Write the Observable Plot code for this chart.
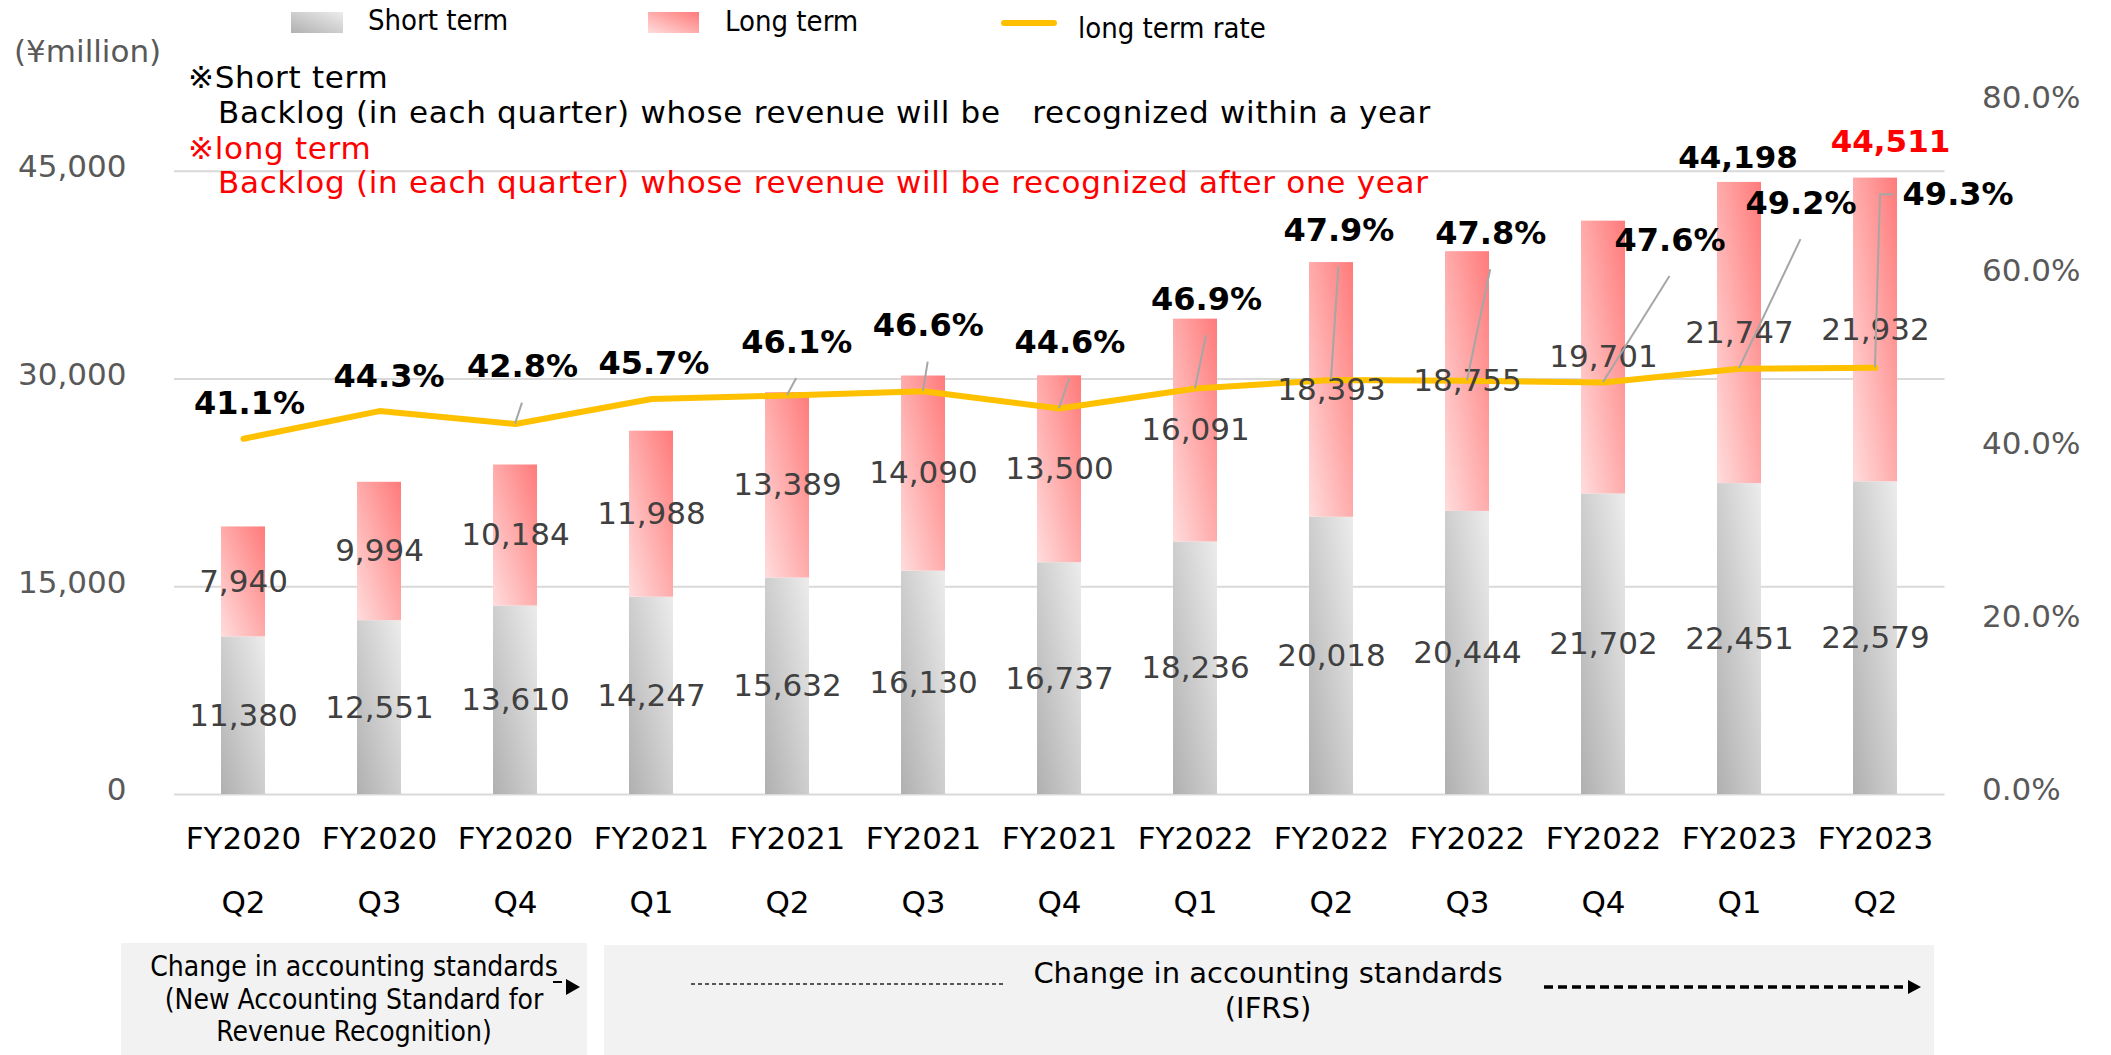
<!DOCTYPE html>
<html>
<head>
<meta charset="utf-8">
<script src="https://cdn.jsdelivr.net/npm/d3@7"></script>
<script src="https://cdn.jsdelivr.net/npm/@observablehq/plot@0.6"></script>
<style>
  html, body { margin: 0; padding: 0; background: #fff; }
  #wrap { position: relative; width: 2111px; height: 1055px; overflow: hidden; }
  #wrap > svg.plot { position: absolute; left: 0; top: 0; }
  .abs { position: absolute; white-space: pre; }
  .cond { font-family: "DejaVu Sans Condensed", "DejaVu Sans", "Noto Sans CJK JP", sans-serif; font-stretch: condensed; }
  .reg { font-family: "DejaVu Sans", "Noto Sans CJK JP", sans-serif; }
</style>
</head>
<body>
<div id="wrap"></div>
<script>
// ---------- data ----------
const fiscalYears = ["FY2020","FY2020","FY2020","FY2021","FY2021","FY2021","FY2021","FY2022","FY2022","FY2022","FY2022","FY2023","FY2023"];
const quarters    = ["Q2","Q3","Q4","Q1","Q2","Q3","Q4","Q1","Q2","Q3","Q4","Q1","Q2"];
const shortTerm   = [11380,12551,13610,14247,15632,16130,16737,18236,20018,20444,21702,22451,22579];
const longTerm    = [7940,9994,10184,11988,13389,14090,13500,16091,18393,18755,19701,21747,21932];
const longRate    = [0.411,0.443,0.428,0.457,0.461,0.466,0.446,0.469,0.479,0.478,0.476,0.492,0.493];
const leftTicks   = [0,15000,30000,45000];
const rightTicks  = [0,0.2,0.4,0.6,0.8];
const totalShown  = [11,12];

// ---------- layout (pixel offsets for labels) ----------
const rateDx = [6,9.5,7,2.4,9.2,4.7,10.4,11,7.4,23.2,66.5,61.5,82.6];
const rateDy = [-35,-34,-57,-35,-53,-65,-66,-89,-149,-147,-142,-165,-173];
const leaderKind = [0,0,1,0,1,1,1,1,1,1,1,1,2];
const totalDx = {11: -1.5, 12: 15};
const totalDy = {11: -24, 12: -36};
const totalColor = {11: "#000000", 12: "#FF0000"};

const categories = fiscalYears.map((f, i) => f + " " + quarters[i]);
const idx = d3.range(categories.length);
const yMax = 50000;
const rateMax = 0.8;
const rateToY = yMax / rateMax;
const fmt = d3.format(",");
const pct = r => (r * 100).toFixed(1) + "%";
const X = i => categories[i];

const rateLabelMarks = idx.map(i => Plot.text([i], {
  x: X, y: j => longRate[j] * rateToY, text: j => pct(longRate[j]),
  dx: rateDx[i], dy: rateDy[i], fontSize: 32, fontWeight: "bold", fill: "#000"
}));
const totalMarks = totalShown.map(i => Plot.text([i], {
  x: X, y: j => shortTerm[j] + longTerm[j], text: j => fmt(shortTerm[j] + longTerm[j]),
  dx: totalDx[i], dy: totalDy[i], fontSize: 31, fontWeight: "bold", fill: totalColor[i]
}));

const plot = Plot.plot({
  width: 2111,
  height: 1055,
  marginLeft: 174,
  marginRight: 166.5,
  marginTop: 101.6,
  marginBottom: 261,
  style: { fontFamily: "DejaVu Sans, sans-serif", background: "transparent", overflow: "visible" },
  x: { type: "band", domain: categories, paddingInner: 0.677, paddingOuter: 0.3385, axis: null },
  y: { domain: [0, yMax], axis: null },
  marks: [
    Plot.ruleY(leftTicks, { stroke: "#d9d9d9", strokeWidth: 2 }),
    Plot.axisY(leftTicks, { anchor: "left", tickSize: 0, tickPadding: 48, fontSize: 31, fill: "#595959", dy: -4, tickFormat: d => fmt(d), label: null }),
    Plot.axisY(rightTicks.map(r => r * rateToY), { anchor: "right", tickSize: 0, tickPadding: 37, fontSize: 31, fill: "#595959", dy: -4, tickFormat: d => pct(d / rateToY), label: null }),
    Plot.barY(idx, { x: X, y1: i => 0, y2: i => shortTerm[i], fill: "url(#gShort)" }),
    Plot.barY(idx, { x: X, y1: i => shortTerm[i], y2: i => shortTerm[i] + longTerm[i], fill: "url(#gLong)" }),
    Plot.line(idx, { x: X, y: i => longRate[i] * rateToY, stroke: "#FFC000", strokeWidth: 6, strokeLinejoin: "round", strokeLinecap: "round" }),
    Plot.text(idx, { x: X, y: i => shortTerm[i] / 2, text: i => fmt(shortTerm[i]), fontSize: 31, fill: "#404040" }),
    Plot.text(idx, { x: X, y: i => shortTerm[i] + longTerm[i] / 2, text: i => fmt(longTerm[i]), fontSize: 31, fill: "#404040" }),
    Plot.text(idx, { x: X, y: i => 0, text: i => fiscalYears[i], dy: 45, fontSize: 31, fill: "#000" }),
    Plot.text(idx, { x: X, y: i => 0, text: i => quarters[i], dy: 108.7, fontSize: 31, fill: "#000" }),
    ...rateLabelMarks,
    ...totalMarks
  ]
});
plot.classList.add("plot");

// gradients for bars
const svg = d3.select(plot);
const defs = svg.insert("defs", ":first-child");
function grad(id, c0, c1) {
  const g = defs.append("linearGradient").attr("id", id)
    .attr("x1", 0).attr("y1", 1).attr("x2", 1).attr("y2", 0);
  g.append("stop").attr("offset", "0%").attr("stop-color", c0);
  g.append("stop").attr("offset", "100%").attr("stop-color", c1);
}
grad("gShort", "#b0b0b0", "#ececec");
grad("gLong", "#ffdcdc", "#ff7a7a");

// leader lines from line points to labels (using the plot's scales)
const sx = plot.scale("x"), sy = plot.scale("y");
const bw = sx.bandwidth || 0;
const leaders = svg.append("g").attr("fill", "none").attr("stroke", "#a6a6a6").attr("stroke-width", 2);
idx.forEach(i => {
  if (!leaderKind[i]) return;
  const px = sx.apply(categories[i]) + bw / 2;
  const py = sy.apply(longRate[i] * rateToY);
  const lx = px + rateDx[i], ly = py + rateDy[i];
  let d;
  if (leaderKind[i] === 1) d = `M${px},${py}L${lx},${ly + 36}`;
  else d = `M${px},${py}L${px + 5},${ly}L${lx - 64},${ly}`;
  leaders.append("path").attr("d", d);
});

const wrap = document.getElementById("wrap");

// bottom boxes
wrap.insertAdjacentHTML("beforeend", `
  <div class="abs" style="left:121px;top:943px;width:466px;height:112px;background:#f2f2f2;"></div>
  <div class="abs" style="left:604px;top:945px;width:1330px;height:110px;background:#f2f2f2;"></div>
`);
wrap.appendChild(plot);

wrap.insertAdjacentHTML("beforeend", `
  <!-- legend -->
  <div class="abs" style="left:291px;top:12px;width:52px;height:21px;background:linear-gradient(to top right,#b0b0b0,#ececec);"></div>
  <div class="abs cond" style="left:368px;top:3px;font-size:29px;line-height:34px;color:#000;">Short term</div>
  <div class="abs" style="left:648px;top:12px;width:51px;height:21px;background:linear-gradient(to top right,#ffdcdc,#ff7a7a);"></div>
  <div class="abs cond" style="left:725px;top:4px;font-size:29px;line-height:34px;color:#000;">Long term</div>
  <div class="abs" style="left:1001px;top:20px;width:56px;height:6px;border-radius:3px;background:#FFC000;"></div>
  <div class="abs cond" style="left:1078px;top:11px;font-size:29px;line-height:34px;color:#000;">long term rate</div>

  <!-- unit -->
  <div class="abs reg" style="left:14px;top:33px;font-size:31px;line-height:36px;color:#595959;">(¥million)</div>

  <!-- notes -->
  <div class="abs reg" style="left:188px;top:59px;font-size:31px;line-height:36px;letter-spacing:0.7px;color:#000;">※Short term</div>
  <div class="abs reg" style="left:218px;top:94px;font-size:31px;line-height:36px;letter-spacing:0.7px;color:#000;">Backlog (in each quarter) whose revenue will be   recognized within a year</div>
  <div class="abs reg" style="left:188px;top:130px;font-size:31px;line-height:36px;letter-spacing:0.7px;color:#FF0000;">※long term</div>
  <div class="abs reg" style="left:218px;top:164px;font-size:31px;line-height:36px;letter-spacing:0.7px;color:#FF0000;">Backlog (in each quarter) whose revenue will be recognized after one year</div>

  <!-- bottom box texts -->
  <div class="abs cond" style="left:121px;top:951px;width:466px;text-align:center;font-size:28px;line-height:32.5px;color:#000;">Change in accounting standards
(New Accounting Standard for
Revenue Recognition)</div>
  <div class="abs reg" style="left:968px;top:956px;width:600px;text-align:center;font-size:29px;line-height:35px;color:#000;">Change in accounting standards
(IFRS)</div>

  <svg class="abs" style="left:0;top:0;" width="2111" height="1055">
    <line x1="553" y1="982" x2="562" y2="982" stroke="#000" stroke-width="2"/>
    <path d="M566,979L580,987L566,995Z" fill="#000"/>
    <line x1="691" y1="984" x2="1004" y2="984" stroke="#222" stroke-width="1.5" stroke-dasharray="4,3"/>
    <line x1="1544" y1="987" x2="1908" y2="987" stroke="#000" stroke-width="3.5" stroke-dasharray="9,5"/>
    <path d="M1908,980L1921,987L1908,994Z" fill="#000"/>
  </svg>
`);
</script>
</body>
</html>
